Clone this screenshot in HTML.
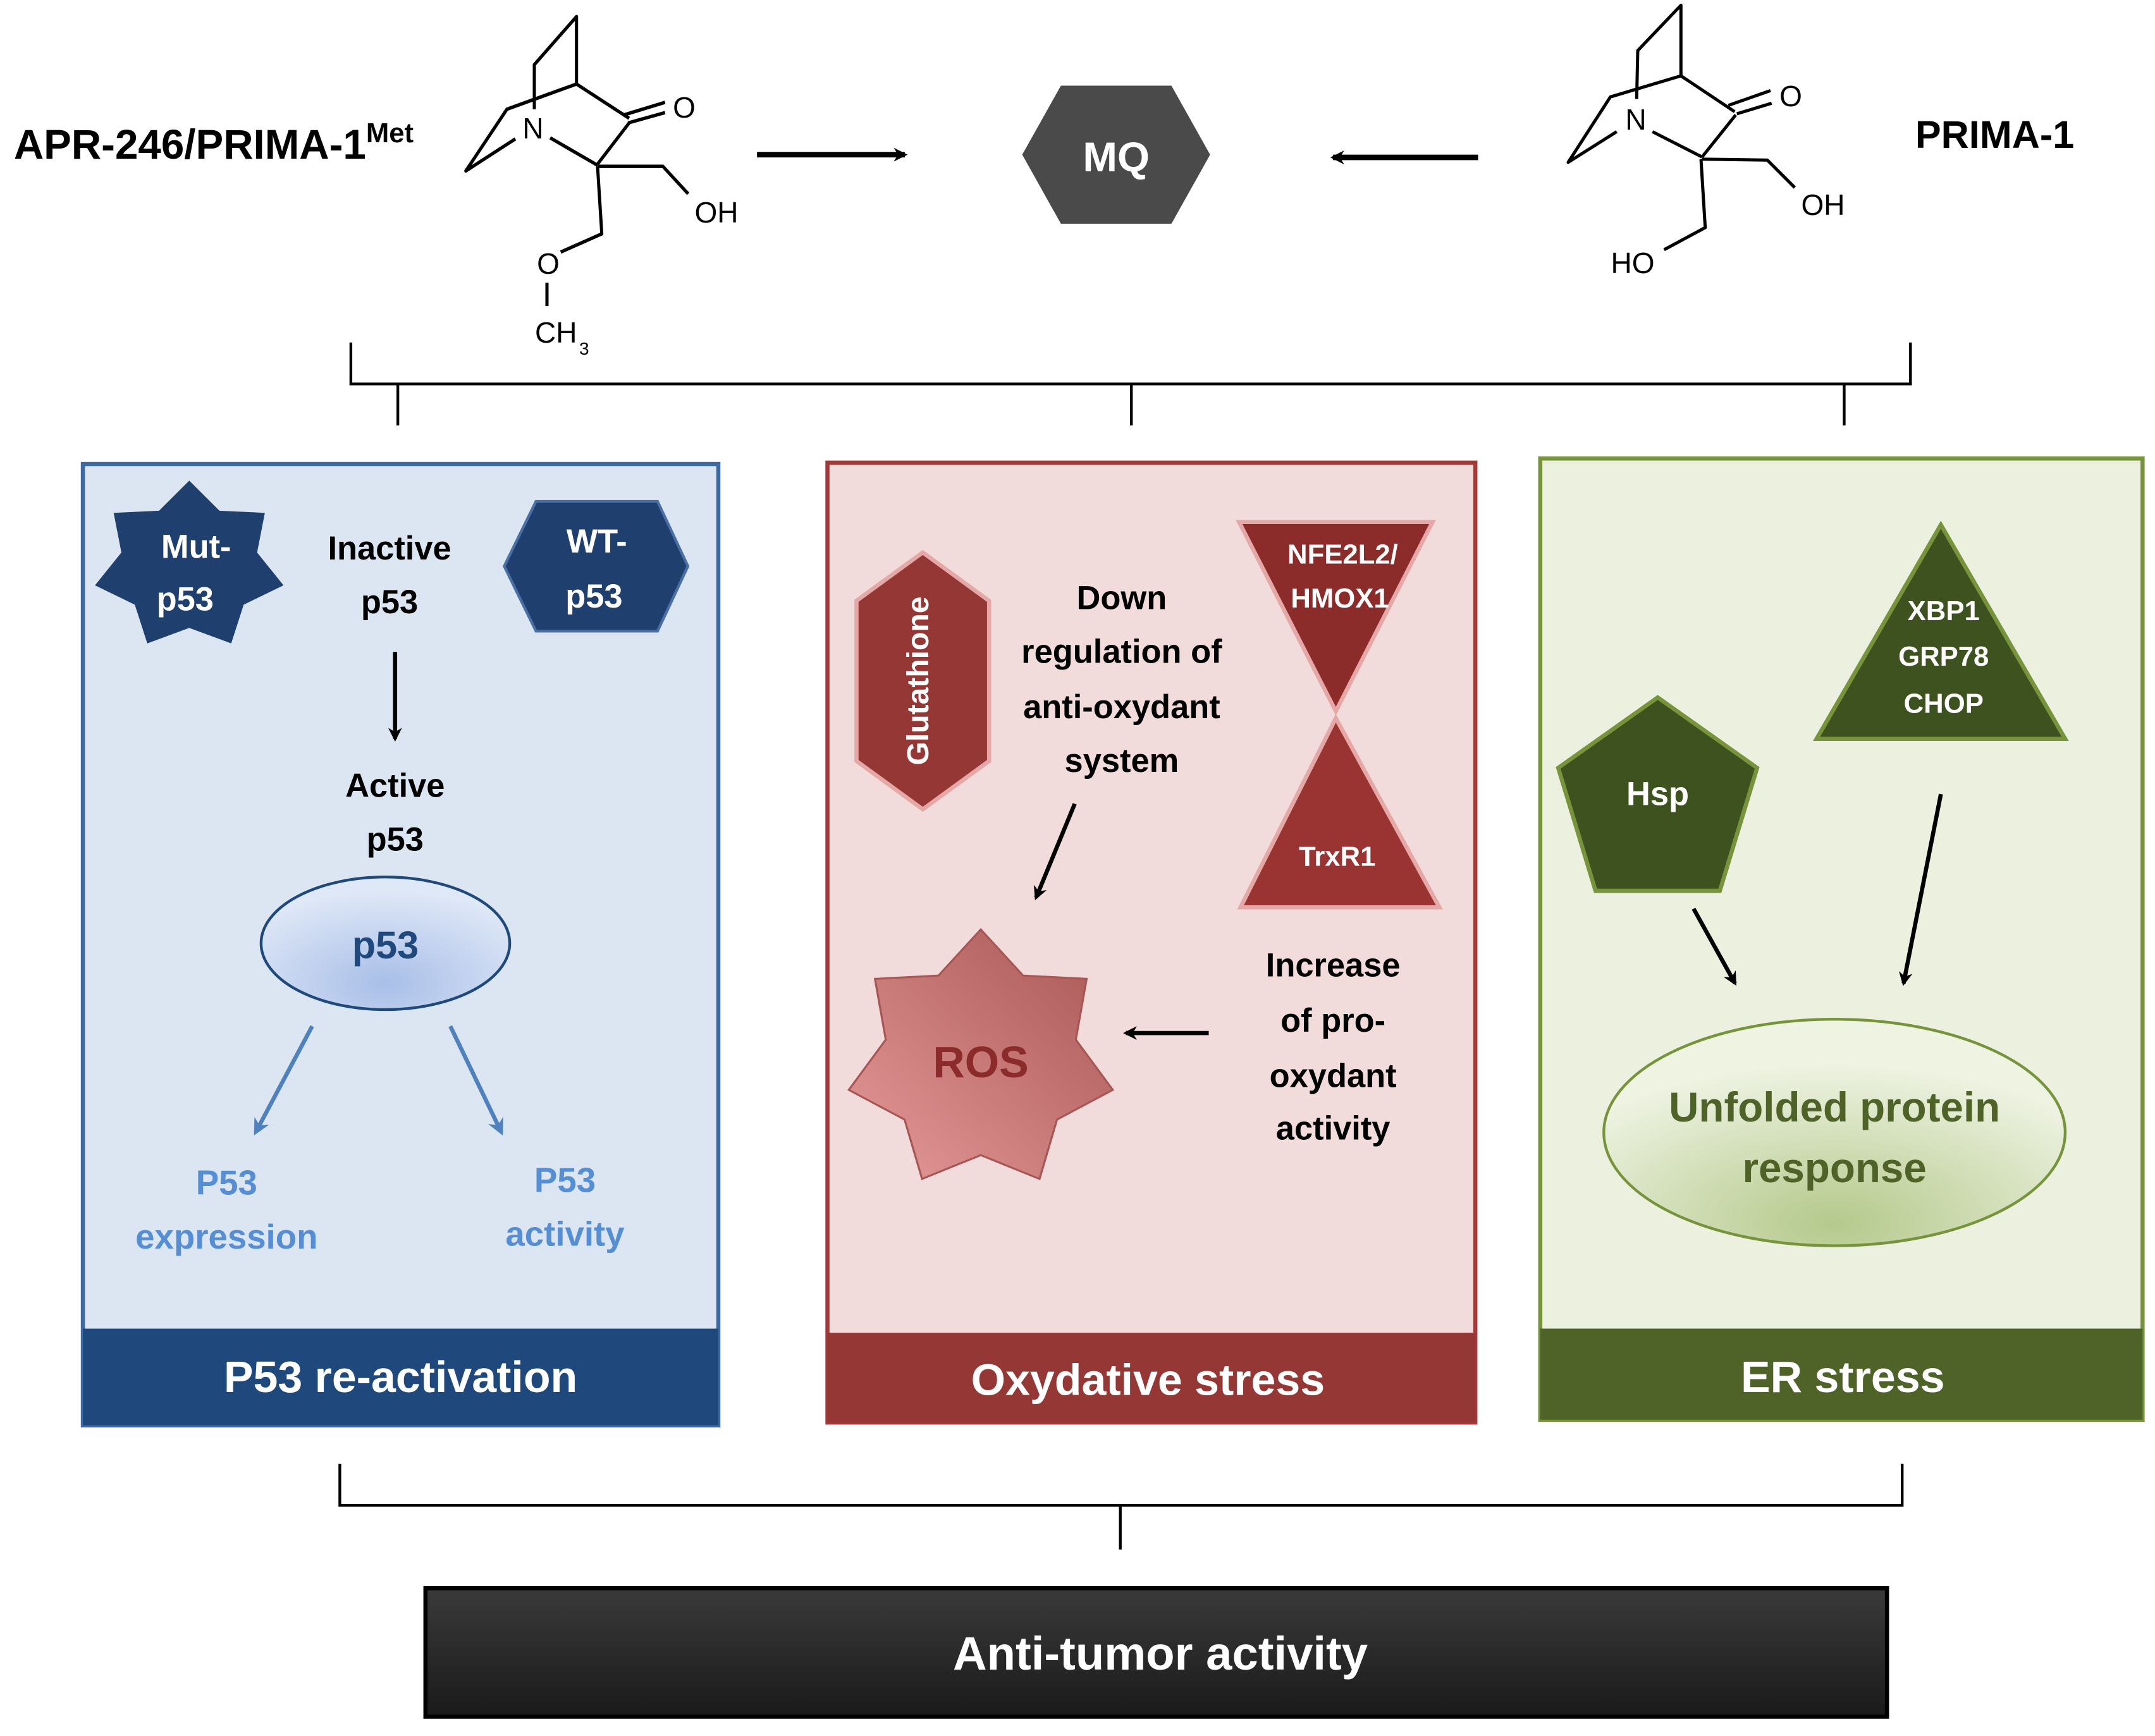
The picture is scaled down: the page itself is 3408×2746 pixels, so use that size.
<!DOCTYPE html>
<html><head><meta charset="utf-8">
<style>
html,body{margin:0;padding:0;background:#fff;}
svg{display:block;}
text{font-family:"Liberation Sans",sans-serif;font-weight:bold;}
</style></head>
<body>
<svg width="3408" height="2746" viewBox="0 0 3408 2746" xmlns="http://www.w3.org/2000/svg">
<defs>
<marker id="ah" markerWidth="10" markerHeight="10" refX="8" refY="5" orient="auto" markerUnits="userSpaceOnUse" viewBox="0 0 10 10"><path d="M0,0 L10,5 L0,10 L3,5 z" fill="#000"/></marker>
<marker id="ahb" markerWidth="12" markerHeight="12" refX="8" refY="5" orient="auto" markerUnits="userSpaceOnUse" viewBox="0 0 10 10"><path d="M0,0 L10,5 L0,10 L3,5 z" fill="#4f81bd"/></marker>
<radialGradient id="gp53" cx="0.5" cy="0.8" r="0.7"><stop offset="0" stop-color="#a9bfe8"/><stop offset="1" stop-color="#dfe8f7"/></radialGradient>
<radialGradient id="gupr" cx="0.5" cy="0.9" r="0.7"><stop offset="0" stop-color="#b5c98c"/><stop offset="1" stop-color="#eef3e2"/></radialGradient>
<linearGradient id="gros" x1="0" y1="1" x2="1" y2="0"><stop offset="0" stop-color="#e59a99"/><stop offset="1" stop-color="#a85654"/></linearGradient>
<linearGradient id="gat" x1="0" y1="0" x2="0" y2="1"><stop offset="0" stop-color="#3a3a3a"/><stop offset="1" stop-color="#1a1a1a"/></linearGradient>
</defs>

<g stroke="#000" stroke-width="5" fill="none" stroke-linejoin="round" transform="translate(0,10) scale(1,1.085) translate(0,-10)">
<polyline points="845,160 845,95 911.7,25 911.7,123.3 801.7,160 736.7,250 815,203.3"/>
<line x1="870" y1="201.7" x2="945" y2="241.7"/>
<line x1="911.7" y1="123.3" x2="995" y2="173.3"/>
<line x1="995" y1="180" x2="945" y2="240"/>
<line x1="986.7" y1="168.3" x2="1051.7" y2="150"/>
<line x1="993.3" y1="180" x2="1051.7" y2="165"/>
<polyline points="945,243.3 1048.3,243.3 1088.3,283.3"/>
<polyline points="945,243.3 951.7,341.7 886.7,368.3"/>
<line x1="865" y1="413" x2="865" y2="447"/>
</g>
<g stroke="#000" stroke-width="5" fill="none" stroke-linejoin="round">
<polyline points="2588.3,156.7 2590,80 2658.3,8.3 2658.3,120 2546.7,153.3 2480,256.7 2556.7,208.3"/>
<line x1="2613.3" y1="208.3" x2="2691.7" y2="248.3"/>
<line x1="2658.3" y1="120" x2="2743.3" y2="176.7"/>
<line x1="2745" y1="181.7" x2="2691.7" y2="248.3"/>
<line x1="2733.3" y1="166.7" x2="2800" y2="143.3"/>
<line x1="2746.7" y1="180" x2="2801.7" y2="163.3"/>
<polyline points="2691.7,251.7 2795,253.3 2838.3,296.7"/>
<polyline points="2690,251.7 2696.7,360 2631.7,395"/>
</g>
<g font-size="46" fill="#000">
<text x="843" y="219" text-anchor="middle" style="font-weight:normal">N</text>
<text x="1082" y="186" text-anchor="middle" style="font-weight:normal">O</text>
<text x="1133" y="352" text-anchor="middle" style="font-weight:normal">OH</text>
<text x="867" y="433" text-anchor="middle" style="font-weight:normal">O</text>
<text x="846" y="542" style="font-weight:normal">CH</text>
<text x="916" y="561" font-size="28" style="font-weight:normal">3</text>
<text x="2587" y="205" text-anchor="middle" style="font-weight:normal">N</text>
<text x="2832" y="168" text-anchor="middle" style="font-weight:normal">O</text>
<text x="2883" y="340" text-anchor="middle" style="font-weight:normal">OH</text>
<text x="2582" y="432" text-anchor="middle" style="font-weight:normal">HO</text>
</g>

<g transform="scale(2.1846)">
<text x="10" y="115" font-size="30" fill="#000">APR-246/PRIMA-1<tspan font-size="20" dy="-12">Met</tspan></text>
<text x="1444" y="107" font-size="28" fill="#000" text-anchor="middle">PRIMA-1</text>
<line x1="548" y1="112" x2="655" y2="112" stroke="#000" stroke-width="4" marker-end="url(#ah)"/>
<line x1="1070" y1="114" x2="965" y2="114" stroke="#000" stroke-width="4" marker-end="url(#ah)"/>
<polygon points="740,112 768,62 848,62 876,112 848,162 768,162" fill="#4a4a4a"/>
<text x="808" y="124" font-size="30" fill="#fff" text-anchor="middle">MQ</text>

<g stroke="#000" stroke-width="2" fill="none">
<polyline points="254,248 254,278 1383,278 1383,248"/>
<line x1="288" y1="278" x2="288" y2="308"/>
<line x1="819" y1="278" x2="819" y2="308"/>
<line x1="1335" y1="278" x2="1335" y2="308"/>
<polyline points="246,1060 246,1090 1377,1090 1377,1060"/>
<line x1="811" y1="1090" x2="811" y2="1122"/>
</g>

<rect x="60" y="336" width="460" height="696" fill="#dce6f2" stroke="#3d6aa5" stroke-width="3"/>
<rect x="60" y="962" width="460" height="70" fill="#1f497d"/>
<text x="290" y="1008" font-size="32" fill="#fff" text-anchor="middle">P53 re-activation</text>
<polygon transform="translate(137,410) scale(70,62)" points="0,-1 0.3124,-0.6487 0.7818,-0.6235 0.7019,-0.1602 0.9749,0.2225 0.5629,0.4489 0.4339,0.9010 0,0.72 -0.4339,0.9010 -0.5629,0.4489 -0.9749,0.2225 -0.7019,-0.1602 -0.7818,-0.6235 -0.3124,-0.6487" fill="#1f3f6f"/>
<text x="142" y="404" font-size="24" fill="#fff" text-anchor="middle">Mut-</text>
<text x="134" y="442" font-size="24" fill="#fff" text-anchor="middle">p53</text>
<polygon points="365,410 388,363 476,363 498,410 476,457 388,457" fill="#1f3f6f" stroke="#4a6fa5" stroke-width="2"/>
<text x="432" y="400" font-size="24" fill="#fff" text-anchor="middle">WT-</text>
<text x="430" y="440" font-size="24" fill="#fff" text-anchor="middle">p53</text>
<text x="282" y="405" font-size="24" fill="#000" text-anchor="middle">Inactive</text>
<text x="282" y="444" font-size="24" fill="#000" text-anchor="middle">p53</text>
<line x1="286" y1="472" x2="286" y2="535" stroke="#000" stroke-width="3" marker-end="url(#ah)"/>
<text x="286" y="577" font-size="24" fill="#000" text-anchor="middle">Active</text>
<text x="286" y="616" font-size="24" fill="#000" text-anchor="middle">p53</text>
<ellipse cx="279" cy="683" rx="90" ry="48" fill="url(#gp53)" stroke="#1f497d" stroke-width="2"/>
<text x="279" y="694" font-size="28" fill="#1f497d" text-anchor="middle">p53</text>
<line x1="226" y1="743" x2="185" y2="820" stroke="#4f81bd" stroke-width="3" marker-end="url(#ahb)"/>
<line x1="326" y1="743" x2="363" y2="820" stroke="#4f81bd" stroke-width="3" marker-end="url(#ahb)"/>
<text x="164" y="865" font-size="25" fill="#558ed5" text-anchor="middle">P53</text>
<text x="164" y="904" font-size="25" fill="#558ed5" text-anchor="middle">expression</text>
<text x="409" y="863" font-size="25" fill="#558ed5" text-anchor="middle">P53</text>
<text x="409" y="902" font-size="25" fill="#558ed5" text-anchor="middle">activity</text>

<rect x="599" y="335" width="469" height="695" fill="#f2dcdb" stroke="#a33a38" stroke-width="3"/>
<rect x="599" y="965" width="469" height="65" fill="#953735"/>
<text x="831" y="1010" font-size="32" fill="#fff" text-anchor="middle">Oxydative stress</text>
<polygon points="668,400 716,435 716,551 668,586 620,551 620,435" fill="#953735" stroke="#e6a8a6" stroke-width="3"/>
<text transform="translate(672,493) rotate(-90)" font-size="22" fill="#fff" text-anchor="middle">Glutathione</text>
<text x="812" y="441" font-size="24" fill="#000" text-anchor="middle">Down</text>
<text x="812" y="480" font-size="24" fill="#000" text-anchor="middle">regulation of</text>
<text x="812" y="520" font-size="24" fill="#000" text-anchor="middle">anti-oxydant</text>
<text x="812" y="559" font-size="24" fill="#000" text-anchor="middle">system</text>
<polygon points="897,378 1037,378 967,515" fill="#8b2b2a" stroke="#e6a8a6" stroke-width="3"/>
<polygon points="967,520 898,657 1042,657" fill="#9a3432" stroke="#e6a8a6" stroke-width="3"/>
<text x="972" y="408" font-size="20" fill="#fff" text-anchor="middle">NFE2L2/</text>
<text x="970" y="440" font-size="20" fill="#fff" text-anchor="middle">HMOX1</text>
<text x="968" y="627" font-size="20" fill="#fff" text-anchor="middle">TrxR1</text>
<line x1="778" y1="582" x2="750" y2="650" stroke="#000" stroke-width="3" marker-end="url(#ah)"/>
<polygon transform="translate(710,768) scale(98,95)" points="0,-1 0.3124,-0.6487 0.7818,-0.6235 0.7019,-0.1602 0.9749,0.2225 0.5629,0.4489 0.4339,0.9010 0,0.72 -0.4339,0.9010 -0.5629,0.4489 -0.9749,0.2225 -0.7019,-0.1602 -0.7818,-0.6235 -0.3124,-0.6487" fill="url(#gros)" stroke="#a85654" stroke-width="0.015"/>
<text x="710" y="780" font-size="32" fill="#8b2b2b" text-anchor="middle">ROS</text>
<line x1="875" y1="748" x2="815" y2="748" stroke="#000" stroke-width="3" marker-end="url(#ah)"/>
<text x="965" y="707" font-size="24" fill="#000" text-anchor="middle">Increase</text>
<text x="965" y="747" font-size="24" fill="#000" text-anchor="middle">of pro-</text>
<text x="965" y="787" font-size="24" fill="#000" text-anchor="middle">oxydant</text>
<text x="965" y="825" font-size="24" fill="#000" text-anchor="middle">activity</text>

<rect x="1115" y="332" width="436" height="696" fill="#ebf1de" stroke="#77933c" stroke-width="3"/>
<rect x="1115" y="962" width="436" height="66" fill="#4f6228"/>
<text x="1334" y="1008" font-size="32" fill="#fff" text-anchor="middle">ER stress</text>
<polygon points="1405,380 1315,535 1495,535" fill="#3e5220" stroke="#77933c" stroke-width="3"/>
<text x="1407" y="449" font-size="20" fill="#fff" text-anchor="middle">XBP1</text>
<text x="1407" y="482" font-size="20" fill="#fff" text-anchor="middle">GRP78</text>
<text x="1407" y="516" font-size="20" fill="#fff" text-anchor="middle">CHOP</text>
<polygon points="1200,505 1272,556 1245,645 1155,645 1128,556" fill="#3e5220" stroke="#77933c" stroke-width="3"/>
<text x="1200" y="583" font-size="24" fill="#fff" text-anchor="middle">Hsp</text>
<line x1="1226" y1="658" x2="1256" y2="712" stroke="#000" stroke-width="3" marker-end="url(#ah)"/>
<line x1="1405" y1="575" x2="1378" y2="712" stroke="#000" stroke-width="3" marker-end="url(#ah)"/>
<ellipse cx="1328" cy="820" rx="167" ry="82" fill="url(#gupr)" stroke="#77933c" stroke-width="2"/>
<text x="1328" y="812" font-size="30" fill="#4f6228" text-anchor="middle">Unfolded protein</text>
<text x="1328" y="856" font-size="30" fill="#4f6228" text-anchor="middle">response</text>

<rect x="308" y="1150" width="1058" height="93" fill="url(#gat)" stroke="#000" stroke-width="3"/>
<text x="840" y="1209" font-size="34" fill="#fff" text-anchor="middle">Anti-tumor activity</text>
</g>
</svg>
</body></html>
